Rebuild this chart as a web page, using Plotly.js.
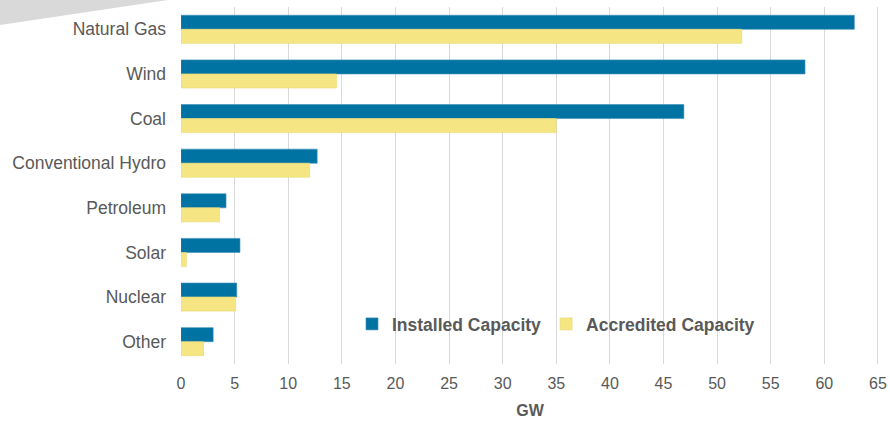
<!DOCTYPE html>
<html>
<head>
<meta charset="utf-8">
<script src="https://cdn.plot.ly/plotly-3.0.1.min.js"></script>
<style>html,body{margin:0;padding:0;background:#fff;}#chart{width:890px;height:421px;}</style>
</head>
<body>
<div id="chart"></div>
<script>
const categories = ["Natural Gas", "Wind", "Coal", "Conventional Hydro", "Petroleum", "Solar", "Nuclear", "Other"];
const installed = [62.8, 58.2, 46.9, 12.7, 4.2, 5.5, 5.2, 3.0];
const accredited = [52.3, 14.5, 35.0, 12.0, 3.6, 0.5, 5.1, 2.1];
const xTicks = [0, 5, 10, 15, 20, 25, 30, 35, 40, 45, 50, 55, 60, 65];

const traces = [
  {type: "bar", orientation: "h", name: "Installed Capacity", y: categories, x: installed,
   marker: {color: "#0073a3", line: {color: "#3d8fb8", width: 0.6}}, hoverinfo: "x+y"},
  {type: "bar", orientation: "h", name: "Accredited Capacity", y: categories, x: accredited,
   marker: {color: "#f5e683", line: {color: "#e8d870", width: 0.6}}, hoverinfo: "x+y"}
];

const FONT = "Liberation Sans, Arial, sans-serif";
const layout = {
  width: 890, height: 421,
  margin: {l: 181, r: 11, t: 7, b: 57},
  paper_bgcolor: "#ffffff", plot_bgcolor: "#ffffff",
  font: {family: FONT, size: 17.5, color: "#595959"},
  barmode: "group", bargap: 0.37, bargroupgap: 0,
  showlegend: true,
  legend: {orientation: "h", x: 0.245, y: 0.112, xanchor: "left", yanchor: "middle",
           bgcolor: "rgba(0,0,0,0)", font: {size: 17.5, color: "#595959", family: FONT, weight: "bold"},
           itemwidth: 30, traceorder: "normal"},
  xaxis: {range: [0, 65.1], tickvals: xTicks, ticktext: xTicks.map(String),
          showgrid: true, gridcolor: "#d9d9d9", gridwidth: 1, zeroline: false,
          showline: false, ticks: "", ticklabelstandoff: 8,
          tickfont: {size: 16, color: "#595959", family: FONT},
          title: {text: "<b>GW</b>", font: {size: 16, color: "#595959", family: FONT}, standoff: 13}},
  yaxis: {autorange: "reversed", showgrid: false, zeroline: false, showline: false,
          ticks: "", ticklabelstandoff: 14, tickfont: {size: 17.5, color: "#595959", family: FONT}},
  shapes: [{type: "path", xref: "paper", yref: "paper", layer: "below",
            path: "M -0.288 1.0756 L 0.0272 1.0756 L 0.0272 1.033 L -0.288 0.9412 Z",
            fillcolor: "#d9d9d9", line: {width: 0}}]
};

Plotly.newPlot("chart", traces, layout, {displayModeBar: false, staticPlot: true});
</script>
</body>
</html>
